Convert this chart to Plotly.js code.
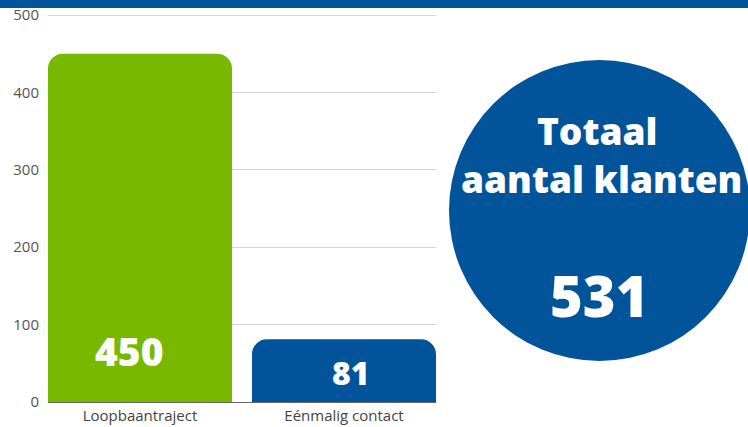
<!DOCTYPE html>
<html>
<head>
<meta charset="utf-8">
<script src="https://cdn.plot.ly/plotly-3.0.1.min.js"></script>
<style>
html,body{margin:0;padding:0;background:#fff;}
#chart{width:748px;height:427px;}
</style>
</head>
<body>
<div id="chart"></div>
<script>
var categories = ["Loopbaantraject", "Eénmalig contact"];
var values = [450, 81];
var barColors = ["#78b800", "#02549a"];
var yTicks = [0, 100, 200, 300, 400, 500];
var totalTitleLines = ["Totaal", "aantal klanten"];
var total = values.reduce(function(a, b){ return a + b; }, 0);

var FONT = "Open Sans, Noto Sans, sans-serif";
var W = 748, H = 427;
var m = {l: 48, r: 312, t: 14, b: 25};
var pw = W - m.l - m.r, ph = H - m.t - m.b;
function px(x){ return (x - m.l) / pw; }
function py(y){ return (H - m.b - y) / ph; }

var trace = {
  type: "bar",
  x: [0, 1],
  y: values,
  width: 0.902,
  marker: {color: barColors, line: {width: 0}},
  hoverinfo: "none"
};

var annotations = [];
var labelShift = [{x: -11, y: 52, size: 39}, {x: 7, y: 30, size: 32}];
values.forEach(function(v, i){
  annotations.push({
    xref: "x", yref: "y", x: i, y: 0,
    text: String(v),
    showarrow: false,
    xanchor: "center", yanchor: "middle",
    xshift: labelShift[i].x, yshift: labelShift[i].y,
    font: {family: FONT, size: labelShift[i].size, color: "#ffffff", weight: 800}
  });
});

annotations.push({
  xref: "paper", yref: "paper", x: px(597), y: py(130),
  text: totalTitleLines[0], showarrow: false,
  xanchor: "center", yanchor: "middle",
  font: {family: FONT, size: 37, color: "#ffffff", weight: 800}
});
annotations.push({
  xref: "paper", yref: "paper", x: px(601), y: py(178),
  text: totalTitleLines[1], showarrow: false,
  xanchor: "center", yanchor: "middle",
  font: {family: FONT, size: 37, color: "#ffffff", weight: 800}
});
annotations.push({
  xref: "paper", yref: "paper", x: px(599), y: py(295),
  text: String(total), showarrow: false,
  xanchor: "center", yanchor: "middle",
  font: {family: FONT, size: 56, color: "#ffffff", weight: 800}
});

var shapes = [
  {type: "rect", xref: "paper", yref: "paper",
   x0: px(-5), x1: px(760), y0: py(8), y1: py(-5),
   fillcolor: "#02549a", line: {width: 0}, layer: "above"},
  {type: "circle", xref: "paper", yref: "paper",
   x0: px(449), x1: px(750), y0: py(361), y1: py(60),
   fillcolor: "#02549a", line: {width: 0}, layer: "below"}
];

var layout = {
  width: W, height: H,
  margin: m,
  paper_bgcolor: "#ffffff",
  plot_bgcolor: "rgba(0,0,0,0)",
  showlegend: false,
  barcornerradius: 15,
  font: {family: FONT, color: "#444444", size: 15},
  xaxis: {
    range: [-0.451, 1.451],
    tickmode: "array",
    tickvals: [0, 1],
    ticktext: categories,
    showgrid: false,
    zeroline: false,
    showline: true,
    linecolor: "#666666",
    linewidth: 1,
    ticks: "",
    tickfont: {family: FONT, size: 15, color: "#444444"},
    fixedrange: true
  },
  yaxis: {
    range: [0, 501.3],
    tickmode: "array",
    tickvals: yTicks,
    ticktext: yTicks.map(String),
    showgrid: true,
    gridcolor: "#d4d4d4",
    gridwidth: 1,
    zeroline: false,
    showline: false,
    ticks: "",
    ticklabelstandoff: 8,
    tickfont: {family: FONT, size: 15, color: "#555555"},
    fixedrange: true
  },
  shapes: shapes,
  annotations: annotations
};

Plotly.newPlot("chart", [trace], layout, {displayModeBar: false, staticPlot: true});
</script>
</body>
</html>
